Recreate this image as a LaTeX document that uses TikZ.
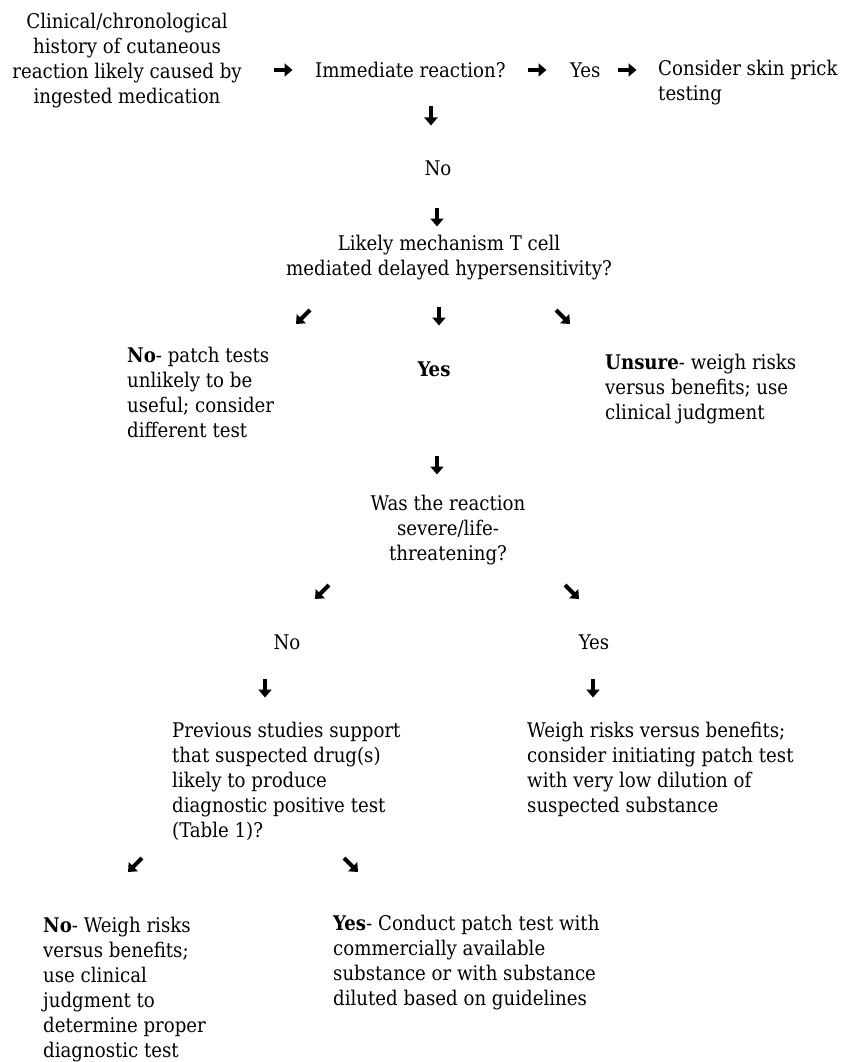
\documentclass[tikz,border=0pt]{standalone}
\usepackage{fontspec}
\setmainfont{DejaVu Serif Condensed}
\usepackage{tikz}
\usetikzlibrary{arrows.meta}
\tikzstyle{txt} = [inner sep=0pt,text=black,font=\fontsize{20.2}{25}\selectfont,execute at begin node=\strut]
\tikzstyle{harrow} = [line width=4.2pt,black,-{Triangle[width=13pt,length=8pt]}]
\tikzstyle{darrow} = [line width=4.2pt,black,-{Triangle[width=12.5pt,length=7.5pt]}]

\begin{document}
\begin{tikzpicture}[x=1pt,y=-1pt]
	\useasboundingbox (0,0) rectangle (840,1062);
	\node[txt,anchor=north,align=center] (hist) at (127,13) {Clinical/chronological\\history of cutaneous\\reaction likely caused by\\ingested medication};
	\node[txt,anchor=north west] (imm) at (315,60) {Immediate reaction?};
	\node[txt,anchor=north west] (yes1) at (570,60) {Yes};
	\node[txt,anchor=north west,align=left] (skin) at (658,60) {Consider skin prick\\testing};
	\node[txt,anchor=north] (no1) at (438,158) {No};
	\node[txt,anchor=north,align=center] (mech) at (449,235) {Likely mechanism T cell\\mediated delayed hypersensitivity?};
	\node[txt,anchor=north west,align=left] (no2) at (127,347) {\textbf{No}- patch tests\\unlikely to be\\useful; consider\\different test};
	\node[txt,anchor=north] (yes2) at (434,359) {\textbf{Yes}};
	\node[txt,anchor=north west,align=left] (unsure) at (605,354) {\textbf{Unsure}- weigh risks\\versus benefits; use\\clinical judgment};
	\node[txt,anchor=north,align=center] (severe) at (448,495) {Was the reaction\\severe/life-\\threatening?};
	\node[txt,anchor=north] (no3) at (287,632) {No};
	\node[txt,anchor=north] (yes3) at (594,632) {Yes};
	\node[txt,anchor=north west,align=left] (prev) at (172,722) {Previous studies support\\that suspected drug(s)\\likely to produce\\diagnostic positive test\\(Table 1)?};
	\node[txt,anchor=north west,align=left] (weigh) at (527,722) {Weigh risks versus benefits;\\consider initiating patch test\\with very low dilution of\\suspected substance};
	\node[txt,anchor=north west,align=left] (no4) at (43,917) {\textbf{No}- Weigh risks\\versus benefits;\\use clinical\\judgment to\\determine proper\\diagnostic test};
	\node[txt,anchor=north west,align=left] (yes4) at (333,915) {\textbf{Yes}- Conduct patch test with\\commercially available\\substance or with substance\\diluted based on guidelines};

	\coordinate (r1) at (283,70);
	\coordinate (r2) at (537,70);
	\coordinate (r3) at (627,70);
	\coordinate (d1) at (431,116);
	\coordinate (d2) at (437,217);
	\coordinate (d3) at (439,316);
	\coordinate (d4) at (437,465);
	\coordinate (d5) at (265,688);
	\coordinate (d6) at (593,688);
	\coordinate (sw1) at (303,317);
	\coordinate (sw2) at (322,592);
	\coordinate (sw3) at (135,865);
	\coordinate (se1) at (563,317);
	\coordinate (se2) at (572,592);
	\coordinate (se3) at (351,865);

	\draw[harrow] ([xshift=-9.5pt]r1) -- ([xshift=9.5pt]r1);
	\draw[harrow] ([xshift=-9.5pt]r2) -- ([xshift=9.5pt]r2);
	\draw[harrow] ([xshift=-9.5pt]r3) -- ([xshift=9.5pt]r3);
	\draw[harrow] ([yshift=9.5pt]d1) -- ([yshift=-9.5pt]d1);
	\draw[harrow] ([yshift=9.5pt]d2) -- ([yshift=-9.5pt]d2);
	\draw[harrow] ([yshift=9.5pt]d3) -- ([yshift=-9.5pt]d3);
	\draw[harrow] ([yshift=9.5pt]d4) -- ([yshift=-9.5pt]d4);
	\draw[harrow] ([yshift=9.5pt]d5) -- ([yshift=-9.5pt]d5);
	\draw[harrow] ([yshift=9.5pt]d6) -- ([yshift=-9.5pt]d6);
	\draw[darrow] ([shift={(7pt,7pt)}]sw1) -- ([shift={(-7pt,-7pt)}]sw1);
	\draw[darrow] ([shift={(7pt,7pt)}]sw2) -- ([shift={(-7pt,-7pt)}]sw2);
	\draw[darrow] ([shift={(7pt,7pt)}]sw3) -- ([shift={(-7pt,-7pt)}]sw3);
	\draw[darrow] ([shift={(-7pt,7pt)}]se1) -- ([shift={(7pt,-7pt)}]se1);
	\draw[darrow] ([shift={(-7pt,7pt)}]se2) -- ([shift={(7pt,-7pt)}]se2);
	\draw[darrow] ([shift={(-7pt,7pt)}]se3) -- ([shift={(7pt,-7pt)}]se3);
\end{tikzpicture}
\end{document}
